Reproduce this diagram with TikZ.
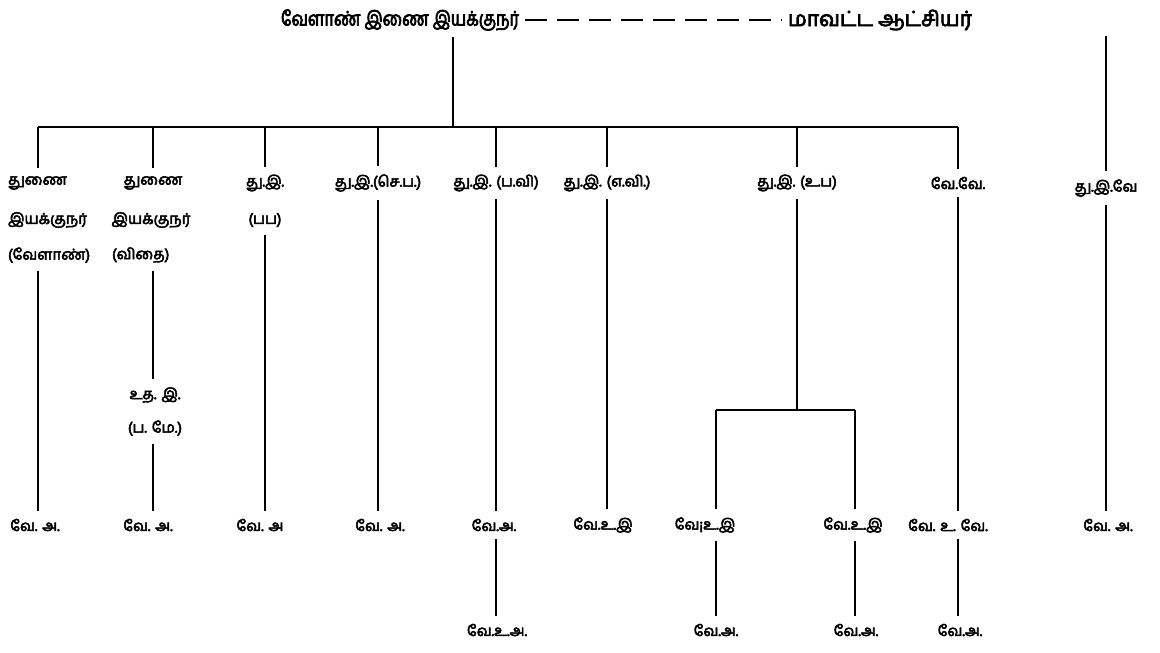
\documentclass[tikz,border=0pt]{standalone}
\usepackage{fontspec}
\newfontfamily\tamil[Script=Tamil, FakeBold=3.5]{Hind Madurai}
\newfontfamily\tamilnarrow[Script=Tamil, FakeBold=3.5, FakeStretch=0.82]{Hind Madurai}
\begin{document}
\begin{tikzpicture}[x=1pt, y=-1pt, lbl/.style={font=\tamil\fontsize{15}{17}\selectfont, inner sep=2pt, outer sep=6pt}, ln/.style={line width=2.2pt}]
  \useasboundingbox (0,0) rectangle (1160,653);
  % Top heads
  \node[lbl, font=\tamilnarrow\fontsize{20}{24}\selectfont, outer sep=4pt] (vii) at (400,20) {வேளாண் இணை இயக்குநர்};
  \node[lbl, font=\tamil\fontsize{21}{24}\selectfont, outer sep=4pt] (mat) at (880,20) {மாவட்ட ஆட்சியர்};
  \draw[line width=1.8pt, dash pattern=on 22pt off 10pt] (vii.east) -- (mat.west);
  \coordinate (trunk) at (453,127);
  \coordinate (barL) at (38,127);
  \coordinate (barR) at (958,127);
  % Second level
  \node[lbl, anchor=west] (tu1a) at (0,183) {துணை};
  \node[lbl, anchor=west] (tu1b) at (0,220) {இயக்குநர்};
  \node[lbl, anchor=west] (tu1c) at (0,255) {(வேளாண்)};
  \node[lbl] (tu2a) at (153,183) {துணை};
  \node[lbl] (tu2b) at (151,220) {இயக்குநர்};
  \node[lbl, anchor=west] (tu2c) at (104,255) {(விதை)};
  \node[lbl] (ti3a) at (265,183) {து.இ.};
  \node[lbl] (ti3b) at (265,220) {(பப)};
  \node[lbl] (ti4) at (378,183) {து.இ.(செ.ப.)};
  \node[lbl] (ti5) at (496,183) {து.இ. (ப.வி)};
  \node[lbl] (ti6) at (607,183) {து.இ. (எ.வி.)};
  \node[lbl] (ti7) at (797,183) {து.இ. (உ.ப)};
  \node[lbl] (vv8) at (958,183) {வே.வே.};
  \node[lbl] (ti9) at (1106,188) {து.இ.வே};
  % Middle of column 2
  \node[lbl] (ui2a) at (155,395) {உத. இ.};
  \node[lbl] (ui2b) at (155,428) {(ப. மே.)};
  % Bottom row
  \node[lbl] (va1) at (35,525) {வே. அ.};
  \node[lbl] (va2) at (148,525) {வே. அ.};
  \node[lbl] (va3) at (260,525) {வே. அ};
  \node[lbl] (va4) at (380,525) {வே. அ.};
  \node[lbl] (va5) at (494,525) {வே.அ.};
  \node[lbl] (vui6) at (603,525) {வே.உ.இ};
  \node[lbl] (vui7a) at (705,525) {வே¡உ.இ};
  \node[lbl] (vui7b) at (853,525) {வே.உ.இ};
  \node[lbl] (vuv8) at (948,525) {வே. உ. வே.};
  \node[lbl] (va9) at (1108,525) {வே. அ.};
  % Lowest row
  \node[lbl] (vua5) at (497,630) {வே.உ.அ.};
  \node[lbl] (va7a) at (716,630) {வே.அ.};
  \node[lbl] (va7b) at (856,630) {வே.அ.};
  \node[lbl] (va8) at (960,630) {வே.அ.};
  % Connecting lines
  \draw[ln] (vii.south -| trunk) -- (trunk);
  \draw[ln] (barL) -- (barR);
  \draw[ln] (barL) -- (barL |- tu1a.north);
  \draw[ln] (tu2a.north |- barL) -- (tu2a.north);
  \draw[ln] (ti3a.north |- barL) -- (ti3a.north);
  \draw[ln] (ti4.north |- barL) -- (ti4.north);
  \draw[ln] (ti5.north |- barL) -- (ti5.north);
  \draw[ln] (ti6.north |- barL) -- (ti6.north);
  \draw[ln] (ti7.north |- barL) -- (ti7.north);
  \draw[ln] (barR) -- (vv8.north);
  \draw[ln] (mat.south -| ti9) -- (ti9.north);
  % Downward lines
  \draw[ln] (barL |- tu1c.south) -- (barL |- va1.north);
  \draw[ln] (tu2a |- tu2c.south) -- (tu2a |- ui2a.north);
  \draw[ln] (tu2a |- ui2b.south) -- (tu2a |- va2.north);
  \draw[ln] (ti3b.south) -- (ti3b |- va3.north);
  \draw[ln] (ti4.south) -- (ti4 |- va4.north);
  \draw[ln] (ti5.south) -- (ti5 |- va5.north);
  \draw[ln] (ti6.south) -- (ti6 |- vui6.north);
  \coordinate (j7a) at (716,410);
  \coordinate (j7b) at (855,410);
  \draw[ln] (ti7.south) -- (ti7 |- j7a);
  \draw[ln] (j7a) -- (j7b);
  \draw[ln] (j7a) -- (j7a |- vui7a.north);
  \draw[ln] (j7b) -- (j7b |- vui7b.north);
  \draw[ln] (vv8.south) -- (vv8 |- vuv8.north);
  \draw[ln] (ti9.south) -- (ti9 |- va9.north);
  \draw[ln] (ti5 |- va5.south) -- (ti5 |- vua5.north);
  \draw[ln] (j7a |- vui7a.south) -- (j7a |- va7a.north);
  \draw[ln] (j7b |- vui7b.south) -- (j7b |- va7b.north);
  \draw[ln] (vv8 |- vuv8.south) -- (vv8 |- va8.north);
\end{tikzpicture}
\end{document}
